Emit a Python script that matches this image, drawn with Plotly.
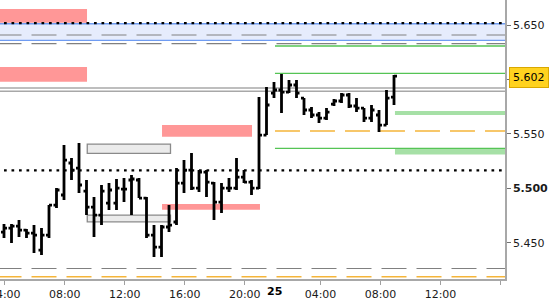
import plotly.graph_objects as go

# ---- data: 30-minute OHLC bars (index positions on a gap-free trading axis) ----
bar_idx = list(range(53))
opens = [5.4598, 5.4634, 5.4653, 5.4616, 5.4588, 5.4432, 5.4570, 5.4846, 5.4938, 5.5232,
         5.5186, 5.4974, 5.4827, 5.4754, 5.4864, 5.4864, 5.4993, 5.5076, 5.5076, 5.4910,
         5.4570, 5.4460, 5.4644, 5.4690, 5.5048, 5.5167, 5.5002, 5.5149, 5.5048, 5.4873,
         5.5002, 5.5002, 5.5103, 5.5057, 5.5002, 5.5489, 5.5875, 5.5903, 5.5884, 5.5949,
         5.5829, 5.5719, 5.5673, 5.5645, 5.5774, 5.5802, 5.5857, 5.5756, 5.5737, 5.5645,
         5.5673, 5.5581, 5.5838]
highs = [5.4671, 5.4671, 5.4708, 5.4625, 5.4662, 5.4634, 5.4846, 5.5002, 5.5397, 5.5278,
         5.5416, 5.5076, 5.4919, 5.5030, 5.5048, 5.5085, 5.5094, 5.5122, 5.5094, 5.4919,
         5.4662, 5.4662, 5.4846, 5.5186, 5.5259, 5.5324, 5.5167, 5.5167, 5.5057, 5.5048,
         5.5094, 5.5278, 5.5167, 5.5076, 5.5838, 5.5930, 5.5976, 5.6050, 5.5995, 5.5995,
         5.5829, 5.5746, 5.5700, 5.5737, 5.5820, 5.5875, 5.5875, 5.5829, 5.5737, 5.5765,
         5.5719, 5.5903, 5.6041]
lows = [5.4543, 5.4497, 5.4552, 5.4543, 5.4405, 5.4386, 5.4543, 5.4818, 5.4892, 5.5076,
        5.4956, 5.4754, 5.4552, 5.4662, 5.4800, 5.4800, 5.4873, 5.4754, 5.4910, 5.4543,
        5.4368, 5.4368, 5.4598, 5.4662, 5.4956, 5.4984, 5.4965, 5.4919, 5.4708, 5.4772,
        5.4965, 5.4984, 5.5048, 5.4938, 5.4993, 5.5489, 5.5829, 5.5691, 5.5875, 5.5829,
        5.5673, 5.5645, 5.5599, 5.5627, 5.5756, 5.5783, 5.5737, 5.5700, 5.5609, 5.5609,
        5.5517, 5.5581, 5.5765]
closes = [5.4634, 5.4653, 5.4616, 5.4588, 5.4570, 5.4570, 5.4846, 5.4984, 5.5259, 5.5167,
          5.5030, 5.4827, 5.4754, 5.4974, 5.4984, 5.5002, 5.4993, 5.5085, 5.4910, 5.4570,
          5.4460, 5.4644, 5.4662, 5.5048, 5.5167, 5.5002, 5.5149, 5.5057, 5.4873, 5.5002,
          5.5002, 5.5103, 5.5057, 5.5002, 5.5489, 5.5765, 5.5903, 5.5884, 5.5949, 5.5875,
          5.5719, 5.5673, 5.5645, 5.5700, 5.5802, 5.5857, 5.5756, 5.5737, 5.5645, 5.5719,
          5.5581, 5.5829, 5.6031]
last_price = 5.602

# axis ticks
x_tick_pos = [0.1, 8.1, 16.1, 24.1, 32.1, 42.2, 50.2, 58.2, 66.2]
x_tick_text = ["04:00", "08:00", "12:00", "16:00", "20:00", "04:00", "08:00", "12:00", ""]
day_label = "25"
day_label_pos = 36.0
y_tick_vals = [5.45, 5.50, 5.55, 5.60, 5.65]
y_tick_text = ["5.450", "<b>5.500</b>", "5.550", "", "5.650"]

# zones: (x_start, x_end, price_low, price_high)
red_zones = [(-0.6, 11.07, 5.6521, 5.6647), (-0.6, 11.07, 5.5979, 5.6114),
             (21.07, 33.07, 5.5473, 5.5581), (21.07, 34.13, 5.4803, 5.4855)]
gray_zones = [(11.1, 22.2, 5.5321, 5.5406), (11.1, 22.2, 5.4692, 5.4754)]
green_zones = [(52.13, 70, 5.5673, 5.5710), (52.13, 70, 5.5310, 5.5367)]
blue_band = (5.6359, 5.6512)
# level lines: (price, x_start, kind)
levels = [(5.6518, -1, "dot"), (5.6408, -1, "graydash"), (5.6328, -1, "graydash"),
          (5.6307, 36.13, "green"), (5.6056, 36.13, "green"),
          (5.5921, -1, "graysolid"), (5.5891, -1, "graysolid"),
          (5.5526, 36.13, "orangedash"), (5.5367, 36.13, "green"),
          (5.5165, -1, "dot"), (5.4263, -1, "graydash"), (5.4187, -1, "orangedash")]

X_MIN, X_MAX = -0.5333, 66.8
Y_MIN, Y_MAX = 5.41665, 5.67297

styles = {
    "dot": dict(color="#000000", width=2.2, dash="2.7px,4.8px"),
    "graydash": dict(color="#808080", width=1.2, dash="25px,10px"),
    "green": dict(color="#55c455", width=1.3),
    "graysolid": dict(color="#a8a8a8", width=1.4),
    "orangedash": dict(color="#f5b53a", width=1.4, dash="25px,10px"),
}

shapes = []
# blue band
shapes.append(dict(type="rect", xref="x", yref="y", x0=X_MIN - 1, x1=X_MAX + 1,
                   y0=blue_band[0], y1=blue_band[1], fillcolor="#e6ecfc",
                   line=dict(width=0), layer="below"))
for yb in blue_band:
    shapes.append(dict(type="line", xref="x", yref="y", x0=X_MIN - 1, x1=X_MAX + 1,
                       y0=yb, y1=yb, line=dict(color="#6f9cf2", width=1.4), layer="below"))
for x0, x1, y0, y1 in red_zones:
    shapes.append(dict(type="rect", xref="x", yref="y", x0=x0, x1=x1, y0=y0, y1=y1,
                       fillcolor="#ff9797", line=dict(width=0), layer="below"))
for x0, x1, y0, y1 in gray_zones:
    shapes.append(dict(type="rect", xref="x", yref="y", x0=x0, x1=x1, y0=y0, y1=y1,
                       fillcolor="#ebebeb", line=dict(color="#8a8a8a", width=1.3),
                       layer="below"))
for x0, x1, y0, y1 in green_zones:
    shapes.append(dict(type="rect", xref="x", yref="y", x0=x0, x1=x1, y0=y0, y1=y1,
                       fillcolor="#a6e0a6", line=dict(width=0), layer="below"))
for price, xs, kind in levels:
    shapes.append(dict(type="line", xref="x", yref="y", x0=xs, x1=X_MAX + 1,
                       y0=price, y1=price, line=styles[kind], layer="below"))

fig = go.Figure()
fig.add_trace(go.Ohlc(
    x=bar_idx, open=opens, high=highs, low=lows, close=closes,
    increasing=dict(line=dict(color="#000000", width=2.8)),
    decreasing=dict(line=dict(color="#000000", width=2.8)),
    tickwidth=0.4, showlegend=False, hoverinfo="skip"))

fig.update_layout(
    width=550, height=300,
    margin=dict(l=0, r=45, t=0, b=21, autoexpand=False),
    paper_bgcolor="white", plot_bgcolor="white",
    showlegend=False,
    shapes=shapes,
    font=dict(family="DejaVu Sans", size=11, color="#1a1a1a"),
    xaxis=dict(range=[X_MIN, X_MAX], rangeslider=dict(visible=False),
               tickmode="array", tickvals=x_tick_pos, ticktext=x_tick_text,
               showgrid=False, zeroline=False, showline=True, linecolor="#a8a8a8",
               linewidth=1.5, ticks="outside", ticklen=4, tickcolor="#a0a0a0",
               ticklabeloverflow="allow", automargin=False, fixedrange=True),
    yaxis=dict(range=[Y_MIN, Y_MAX], side="right", tickmode="array",
               tickvals=y_tick_vals, ticktext=y_tick_text,
               showgrid=False, zeroline=False, showline=True, linecolor="#a8a8a8",
               linewidth=1.5, ticks="outside", ticklen=4, tickcolor="#707070",
               ticklabeloverflow="allow", automargin=False, fixedrange=True),
    annotations=[
        dict(x=1, xref="paper", y=last_price, yref="y", text="5.602",
             xanchor="left", yanchor="middle", xshift=4, showarrow=False,
             bgcolor="#ffd21f", bordercolor="#d9a800", borderwidth=1, borderpad=3,
             font=dict(family="DejaVu Sans", size=11, color="#000000")),
        dict(x=day_label_pos, xref="x", y=0, yref="paper", text="<b>" + day_label + "</b>",
             xanchor="center", yanchor="top", yshift=-4, showarrow=False,
             font=dict(family="DejaVu Sans", size=11, color="#000000")),
    ],
)

fig.write_html("out.html")
